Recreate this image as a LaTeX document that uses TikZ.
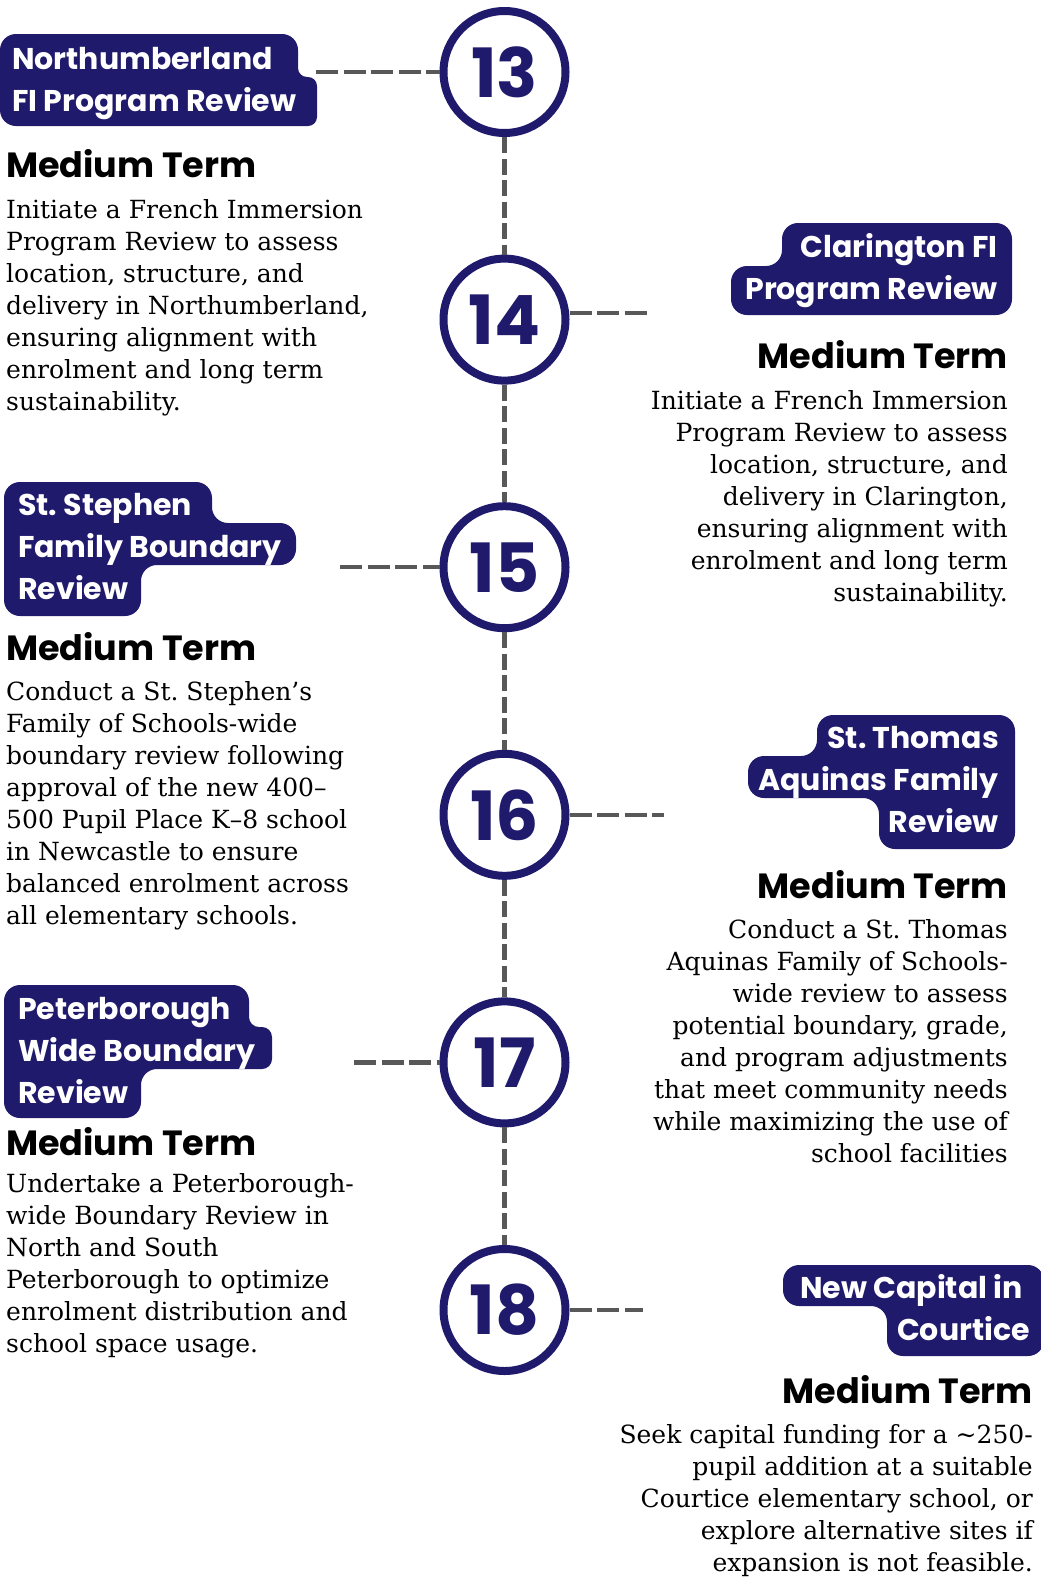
\documentclass[tikz,border=0pt]{standalone}
\usepackage{fontspec}
\setmainfont{DejaVu Serif}
\newfontfamily\popfont{Poppins}
\usetikzlibrary{positioning}
\definecolor{RoadNavy}{HTML}{201A6C}
\definecolor{DashGrey}{HTML}{585858}
\frenchspacing

\begin{document}
\begin{tikzpicture}[x=1pt, y=-1pt,
      num/.style={circle, draw=RoadNavy, line width=8pt, fill=white,
                  minimum size=122pt, inner sep=0pt, text=RoadNavy,
                  font=\popfont\bfseries\fontsize{68}{68}\selectfont},
      tagbg/.style={fill=RoadNavy, rounded corners=16pt},
      tagtxt/.style={text=white, inner sep=0pt, text height=21pt,
                     text depth=8pt,
                     font=\popfont\bfseries\fontsize{30}{35}\selectfont},
      term/.style={inner sep=0pt,
                   font=\popfont\bfseries\fontsize{35}{40}\selectfont},
      desc/.style={inner sep=0pt, font=\fontsize{25}{32}\selectfont},
      spine/.style={DashGrey, line width=4.5pt, dash pattern=on 16pt off 5.5pt},
      link/.style={DashGrey, line width=4.5pt, dash pattern=on 22pt off 5.5pt},
      node distance=13pt,
    ]
      \useasboundingbox (0,0) rectangle (1041,1577);

      % tag backgrounds
      \fill[tagbg] (0,34) -- (298,34) [rounded corners=9pt] -- (298,77)
            -- (317,77) -- (317,126) [rounded corners=16pt] -- (0,126) -- cycle;
      \fill[tagbg] (1012,223) -- (782,223) -- (782,266) -- (731,266)
            -- (731,315) -- (1012,315) -- cycle;
      \fill[tagbg] (4,482) -- (212,482) -- (212,523) -- (296,523) -- (296,565)
            -- (141,565) -- (141,616) -- (4,616) -- cycle;
      \fill[tagbg] (1015,715) -- (817,715) -- (817,756) -- (748,756)
            -- (748,798) -- (879,798) -- (879,849) -- (1015,849) -- cycle;
      \fill[tagbg] (4,985) -- (249,985) [rounded corners=10pt] -- (249,1027)
            -- (272,1027) -- (272,1069) [rounded corners=16pt] -- (141,1069)
            -- (141,1118) -- (4,1118) -- cycle;
      \fill[tagbg] (1044,1265) -- (783,1265) -- (783,1306) -- (887,1306)
            -- (887,1356) -- (1044,1356) -- cycle;

      \node[num] (c13) at (504.5,72) {13};
      \node[num] (c14) at (504.5,319.6) {14};
      \node[num] (c15) at (504.5,567.2) {15};
      \node[num] (c16) at (504.5,814.8) {16};
      \node[num] (c17) at (504.5,1062.4) {17};
      \node[num] (c18) at (504.5,1310) {18};
      \draw[spine] (c13) -- (c14); \draw[spine] (c14) -- (c15);
      \draw[spine] (c15) -- (c16); \draw[spine] (c16) -- (c17);
      \draw[spine] (c17) -- (c18);

      \coordinate (e13) at (316,72);
      \coordinate (e14) at (651,313);
      \coordinate (e15) at (340,567.2);
      \coordinate (e16) at (664,814.8);
      \coordinate (e17) at (354,1062.4);
      \coordinate (e18) at (643,1310);
      \draw[link] (e13) -- (c13); \draw[link] (c14.east |- e14) -- (e14);
      \draw[link] (e15) -- (c15); \draw[link] (c16) -- (e16);
      \draw[link] (e17) -- (c17); \draw[link] (c18) -- (e18);

      \node[tagtxt, anchor=base west] (t13a) at (12,69) {Northumberland};
      \node[tagtxt, below=of t13a.south west, anchor=north west] (t13b) {FI Program Review};
      \node[tagtxt, anchor=base east] (t14a) at (998,257) {Clarington FI};
      \node[tagtxt, below=of t14a.south east, anchor=north east] (t14b) {Program Review};
      \node[tagtxt, anchor=base west] (t15a) at (18,515) {St. Stephen};
      \node[tagtxt, below=of t15a.south west, anchor=north west] (t15b) {Family Boundary};
      \node[tagtxt, below=of t15b.south west, anchor=north west] (t15c) {Review};
      \node[tagtxt, anchor=base east] (t16a) at (999,748) {St. Thomas};
      \node[tagtxt, below=of t16a.south east, anchor=north east] (t16b) {Aquinas Family};
      \node[tagtxt, below=of t16b.south east, anchor=north east] (t16c) {Review};
      \node[tagtxt, anchor=base west] (t17a) at (18,1019) {Peterborough};
      \node[tagtxt, below=of t17a.south west, anchor=north west] (t17b) {Wide Boundary};
      \node[tagtxt, below=of t17b.south west, anchor=north west] (t17c) {Review};
      \node[tagtxt, anchor=base east] (t18a) at (1023,1298) {New Capital in};
      \node[tagtxt, below=of t18a.south east, anchor=north east, xshift=7pt] (t18b) {Courtice};

      % the base of a text block is its last line: 32pt a line
      \node[term, anchor=base west] (h13) at (6,177) {Medium Term};
      \node[desc, align=left, below=233pt of h13.base west, anchor=base west] (d13)
            {Initiate a French Immersion\\Program Review to assess\\location, structure, and\\delivery in Northumberland,\\ensuring alignment with\\enrolment and long term\\sustainability.};
      \node[term, anchor=base east] (h14) at (1008,368) {Medium Term};
      \node[desc, align=right, below=233pt of h14.base east, anchor=base east] (d14)
            {Initiate a French Immersion\\Program Review to assess\\location, structure, and\\delivery in Clarington,\\ensuring alignment with\\enrolment and long term\\sustainability.};
      \node[term, anchor=base west] (h15) at (6,660) {Medium Term};
      \node[desc, align=left, below=264pt of h15.base west, anchor=base west] (d15)
            {Conduct a St. Stephen’s\\Family of Schools-wide\\boundary review following\\approval of the new 400–\\500 Pupil Place K–8 school\\in Newcastle to ensure\\balanced enrolment across\\all elementary schools.};
      \node[term, anchor=base east] (h16) at (1008,898) {Medium Term};
      \node[desc, align=right, below=264pt of h16.base east, anchor=base east] (d16)
            {Conduct a St. Thomas\\Aquinas Family of Schools-\\wide review to assess\\potential boundary, grade,\\and program adjustments\\that meet community needs\\while maximizing the use of\\school facilities};
      \node[term, anchor=base west] (h17) at (6,1155) {Medium Term};
      \node[desc, align=left, below=197pt of h17.base west, anchor=base west] (d17)
            {Undertake a Peterborough-\\wide Boundary Review in\\North and South\\Peterborough to optimize\\enrolment distribution and\\school space usage.};
      \node[term, anchor=base east] (h18) at (1033,1403) {Medium Term};
      \node[desc, align=right, below=168pt of h18.base east, anchor=base east] (d18)
            {Seek capital funding for a \textasciitilde250-\\pupil addition at a suitable\\Courtice elementary school, or\\explore alternative sites if\\expansion is not feasible.};
    \end{tikzpicture}
\end{document}
